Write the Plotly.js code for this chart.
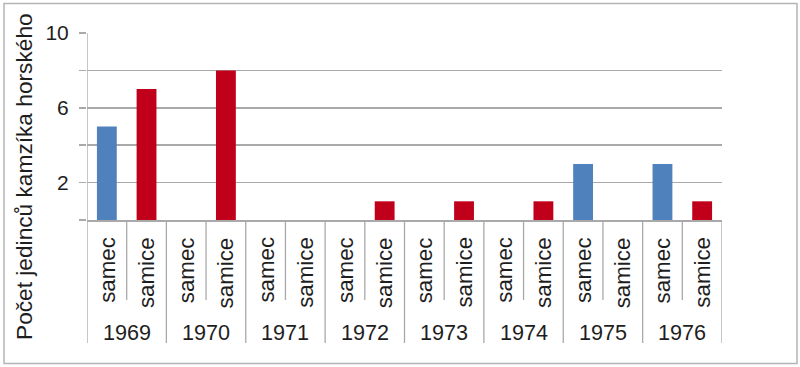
<!DOCTYPE html>
<html>
<head>
<meta charset="utf-8">
<script src="https://cdn.plot.ly/plotly-3.0.1.min.js"></script>
<style>html,body{margin:0;padding:0;background:#fff;}#chart{width:800px;height:367px;}</style>
</head>
<body>
<div id="chart"></div>
<script>
var years = ['1969', '1970', '1971', '1972', '1973', '1974', '1975', '1976'];
var sexes = ['samec', 'samice'];
var samecValues = [5, 0, 0, 0, 0, 0, 3, 3];
var samiceValues = [7, 8, 0, 1, 1, 1, 0, 1];
var yTickVals = [0, 2, 4, 6, 8, 10];
var yTickText = ['', '2', '', '6', '', '10'];
var yTitle = 'Počet jedinců kamzíka horského';

var FONT = 'Liberation Sans, Arial, sans-serif';
var GRID = '#a9a9a9';
var TXT = '#1e1e1e';

var cats = [];
years.forEach(function (y) { sexes.forEach(function (s) { cats.push(y + ' ' + s); }); });

var traces = [
  { type: 'bar', name: 'samec', x: years.map(function (y) { return y + ' samec'; }), y: samecValues,
    width: 0.5, marker: { color: '#4f81bd', line: { width: 0 } }, hoverinfo: 'x+y' },
  { type: 'bar', name: 'samice', x: years.map(function (y) { return y + ' samice'; }), y: samiceValues,
    width: 0.5, marker: { color: '#c0001b', line: { width: 0 } }, hoverinfo: 'x+y' }
];

// plot area geometry in paper units (pixel-derived)
function py(pix) { return (220 - pix) / 187; }
function px(pix) { return (pix - 87) / 635; }

var shapes = [];
var annotations = [];
// outer frame
shapes.push({ type: 'rect', xref: 'paper', yref: 'paper', x0: px(4), x1: px(797), y0: py(363.5), y1: py(3.5),
  line: { color: '#b4b4b4', width: 1.5 }, layer: 'below' });
// dividers
cats.forEach(function (c, i) {
  if (i % 2 === 1) {
    shapes.push({ type: 'line', xref: 'x', yref: 'paper', x0: i - 0.5, x1: i - 0.5, y0: 0, y1: py(300),
      line: { color: GRID, width: 1.3 } });
  }
});
for (var g = 0; g <= years.length; g++) {
  shapes.push({ type: 'line', xref: 'x', yref: 'paper', x0: g * 2 - 0.5, x1: g * 2 - 0.5, y0: g === 0 ? 1 : 0, y1: py(343),
    line: { color: GRID, width: 1.3 } });
}
// category labels
cats.forEach(function (c, i) {
  annotations.push({ xref: 'x', yref: 'paper', x: i, y: py(235), text: sexes[i % 2], textangle: -90,
    showarrow: false, xanchor: 'center', yanchor: 'top', font: { family: FONT, size: 22.3, color: TXT } });
});
years.forEach(function (y, k) {
  annotations.push({ xref: 'x', yref: 'paper', x: k * 2 + 0.5, y: py(332.5), text: y,
    showarrow: false, xanchor: 'center', yanchor: 'middle', font: { family: FONT, size: 21.6, color: TXT } });
});
// y axis title
annotations.push({ xref: 'paper', yref: 'paper', x: px(24), y: py(177), text: yTitle, textangle: -90,
  showarrow: false, xanchor: 'center', yanchor: 'middle', font: { family: FONT, size: 22.7, color: TXT } });

var layout = {
  width: 800, height: 367,
  margin: { l: 87, r: 78, t: 33, b: 147, pad: 0 },
  paper_bgcolor: '#fff', plot_bgcolor: '#fff',
  showlegend: false,
  barmode: 'overlay',
  font: { family: FONT, size: 21, color: TXT },
  xaxis: { type: 'category', categoryorder: 'array', categoryarray: cats, range: [-0.5, cats.length - 0.5],
    showticklabels: false, ticks: '', showgrid: false, zeroline: false,
    showline: true, linecolor: GRID, linewidth: 1.5 },
  yaxis: { range: [0, 10], tickvals: yTickVals, ticktext: yTickText, ticks: 'outside', ticklen: 7,
    tickcolor: GRID, tickwidth: 1.5, showgrid: true, gridcolor: GRID, gridwidth: 1.5,
    zeroline: false, showline: false, tickfont: { family: FONT, size: 21, color: TXT }, ticklabelstandoff: 6 },
  shapes: shapes,
  annotations: annotations
};

Plotly.newPlot('chart', traces, layout, { displayModeBar: false, staticPlot: true });
</script>
</body>
</html>
